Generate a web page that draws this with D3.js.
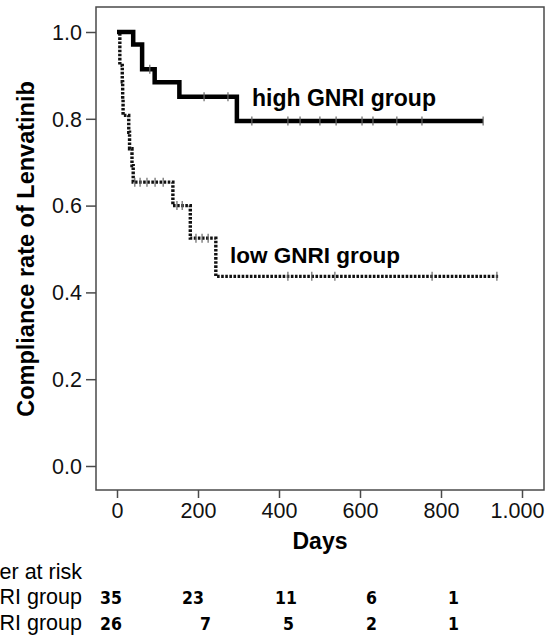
<!DOCTYPE html>
<html>
<head>
<meta charset="utf-8">
<script src="https://cdn.jsdelivr.net/npm/d3@7"></script>
<style>
  body { margin: 0; background: #fff; }
  svg { display: block; }
</style>
</head>
<body>
<div id="chart"></div>
<script>
// step data: [day, compliance rate after the event]
const highSteps = [[0, 1.0], [40, 0.971], [62, 0.914], [93, 0.884], [154, 0.851], [296, 0.795]];
const highEnd = 904;
const highCensor = [81, 215, 274, 333, 422, 452, 501, 541, 605, 632, 691, 753, 904];

const lowSteps = [[0, 1.0], [7, 0.923], [13, 0.885], [14, 0.846], [15, 0.808], [29, 0.769], [31, 0.731], [37, 0.692], [40, 0.654], [138, 0.600], [181, 0.525], [244, 0.437]];
const lowEnd = 941;
const lowCensor = [44, 57, 74, 94, 114, 148, 161, 195, 210, 225, 422, 481, 538, 778, 938];

const xTicks = [0, 200, 400, 600, 800, 1000];
const yTicks = [0, 0.2, 0.4, 0.6, 0.8, 1.0];

const riskLabels = ["Number at risk", "high GNRI group", "low GNRI group"];
const riskHigh = [35, 23, 11, 6, 1];
const riskLow = [26, 7, 5, 2, 1];

const w = 555, h = 636;
const frame = {left: 96, top: 7, right: 544, bottom: 490};

const svg = d3.select("#chart").append("svg")
  .attr("width", w)
  .attr("height", h)
  .style("font-family", "'Liberation Sans', Arial, sans-serif");

const x = d3.scaleLinear().domain([0, 1000]).range([117, 522]);
const y = d3.scaleLinear().domain([0, 1]).range([466, 32]);

// frame
svg.append("rect")
  .attr("x", frame.left).attr("y", frame.top)
  .attr("width", frame.right - frame.left)
  .attr("height", frame.bottom - frame.top)
  .attr("fill", "none").attr("stroke", "#4a4a4a").attr("stroke-width", 1.5);

// axes
const euro = d3.formatLocale({decimal: ",", thousands: ".", grouping: [3], currency: ["", ""]});

const yAxis = svg.append("g")
  .attr("transform", `translate(${frame.left},0)`)
  .call(d3.axisLeft(y).tickValues(yTicks).tickFormat(d3.format(".1f")).tickSize(10).tickPadding(4));
const xAxis = svg.append("g")
  .attr("transform", `translate(0,${frame.bottom})`)
  .call(d3.axisBottom(x).tickValues(xTicks).tickFormat(euro.format(",")).tickSize(8).tickPadding(5));

[xAxis, yAxis].forEach(g => {
  g.select(".domain").remove();
  g.selectAll("line").attr("stroke", "#4a4a4a").attr("stroke-width", 1.5);
  g.selectAll("text").attr("fill", "#111").style("font-size", "21.5px")
    .style("font-family", "'Liberation Sans', Arial, sans-serif");
});
yAxis.selectAll("text").attr("dy", "0.34em");
// the last label sits a little left of its tick in the original
xAxis.selectAll("text").filter(d => d === 1000).attr("dx", -5);

// axis titles
svg.append("text")
  .attr("x", 320).attr("y", 549)
  .attr("text-anchor", "middle")
  .style("font-size", "23px").style("font-weight", "bold")
  .text("Days");

svg.append("text")
  .attr("transform", "translate(34,249) rotate(-90)")
  .attr("text-anchor", "middle")
  .style("font-size", "23.5px").style("font-weight", "bold")
  .text("Compliance rate of Lenvatinib");

// curves
const line = d3.line()
  .x(d => x(d[0]))
  .y(d => y(d[1]))
  .curve(d3.curveStepAfter);

function stepVal(steps, t) {
  let v = steps[0][1];
  steps.forEach(s => { if (s[0] <= t) v = s[1]; });
  return v;
}

svg.append("path")
  .datum(lowSteps.concat([[lowEnd, lowSteps[lowSteps.length - 1][1]]]))
  .attr("d", line)
  .attr("fill", "none")
  .attr("stroke", "#111")
  .attr("stroke-width", 3.4)
  .attr("stroke-dasharray", "2.6,1.5");

svg.append("path")
  .datum(highSteps.concat([[highEnd, highSteps[highSteps.length - 1][1]]]))
  .attr("d", line)
  .attr("fill", "none")
  .attr("stroke", "#000")
  .attr("stroke-width", 4.5)
  .attr("stroke-linejoin", "miter");

// censor marks
function censor(times, steps) {
  svg.append("g").selectAll("line")
    .data(times)
    .enter()
    .append("line")
    .attr("x1", d => x(d)).attr("x2", d => x(d))
    .attr("y1", d => y(stepVal(steps, d)) - 4.5)
    .attr("y2", d => y(stepVal(steps, d)) + 4.5)
    .attr("stroke", "#666")
    .attr("stroke-width", 1.2);
}
censor(highCensor, highSteps);
censor(lowCensor, lowSteps);

// group labels
svg.append("text")
  .attr("x", 252).attr("y", 106)
  .style("font-size", "23px").style("font-weight", "bold")
  .text("high GNRI group");
svg.append("text")
  .attr("x", 230).attr("y", 263)
  .style("font-size", "22.5px").style("font-weight", "bold")
  .text("low GNRI group");

// number at risk table
const rowY = [579, 604, 630];
svg.append("g").selectAll("text")
  .data(riskLabels)
  .enter()
  .append("text")
  .attr("x", 82)
  .attr("y", (d, i) => rowY[i])
  .attr("text-anchor", "end")
  .style("font-size", "21.5px")
  .text(d => d);

// left edge of each number, relative to the tick of its column
const colShift = [[-17, -16, -4, 6, 7], [-17, 2, 4, 6, 7]];
[riskHigh, riskLow].forEach((row, r) => {
  svg.append("g").selectAll("text")
    .data(row)
    .enter()
    .append("text")
    .attr("x", (d, i) => x(xTicks[i]) + colShift[r][i])
    .attr("y", rowY[r + 1])
    .style("font-family", "'Liberation Sans Narrow', 'DejaVu Sans Condensed', sans-serif")
    .style("font-size", "17.5px")
    .style("font-weight", "bold")
    .text(d => d);
});
</script>
</body>
</html>
